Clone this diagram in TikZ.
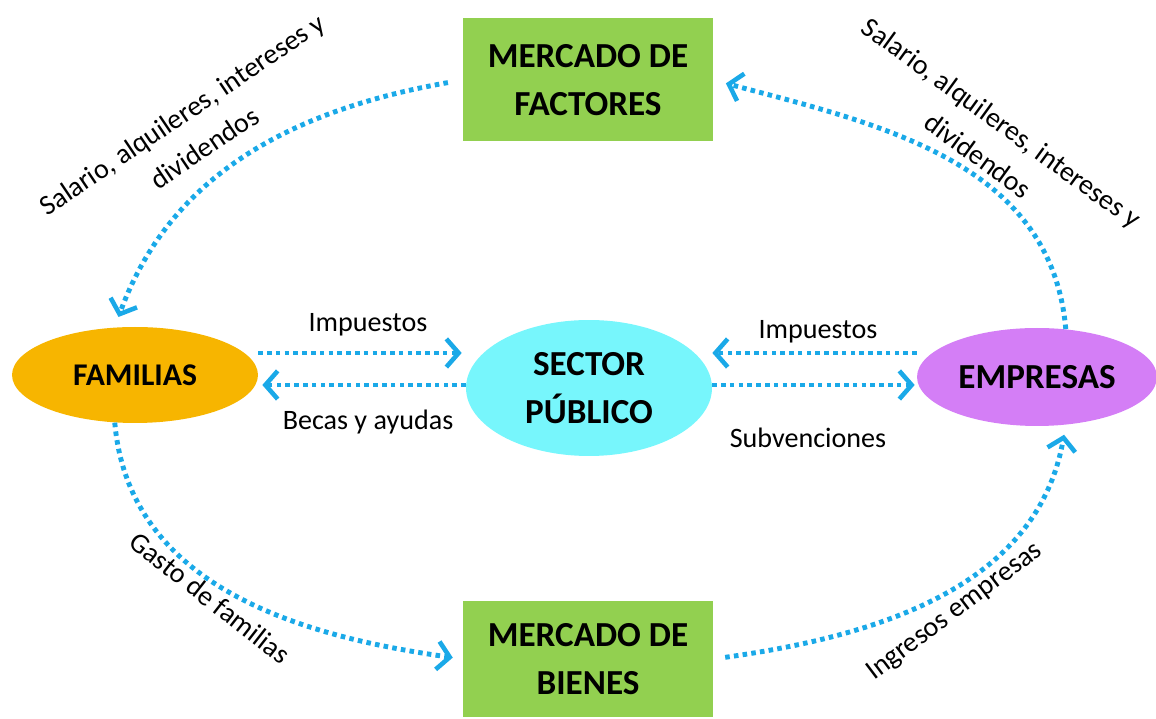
\documentclass[tikz,border=0pt]{standalone}
\usepackage{fontspec}
\setmainfont{Carlito}
\usetikzlibrary{arrows.meta,shapes.geometric}

\definecolor{verde}{HTML}{92D050}
\definecolor{naranja}{HTML}{F7B500}
\definecolor{celeste}{HTML}{77F6FC}
\definecolor{violeta}{HTML}{D47EF6}
\definecolor{azul}{HTML}{1AA9E8}

\begin{document}
\begin{tikzpicture}[x=0.02cm,y=0.02cm,
    flujo/.style={draw=azul,line width=2.8pt,dash pattern=on 2.6pt off 2.4pt,
      -{Straight Barb[length=7pt,width=16pt,line width=2.6pt]}},
    mercado/.style={rectangle,fill=verde,inner sep=0pt,minimum width=5cm,align=center,
      font=\bfseries\fontsize{20}{27}\selectfont},
    agente/.style={ellipse,inner sep=0pt,align=center,
      font=\bfseries\fontsize{20}{27}\selectfont},
    etiq/.style={inner sep=1pt,align=center,font=\fontsize{16}{23}\selectfont}]
    \useasboundingbox (0,0) rectangle (1156,719);

    \node[mercado,minimum height=2.46cm] (m_f) at (588,639) {MERCADO DE\\FACTORES};
    \node[mercado,minimum height=2.32cm] (m_b) at (588,60)  {MERCADO DE\\BIENES};
    \node[agente,fill=naranja,minimum width=4.92cm,minimum height=1.92cm,
          font=\bfseries\fontsize{18}{24}\selectfont] (fam) at (135,344) {FAMILIAS};
    \node[agente,fill=celeste,minimum width=4.92cm,minimum height=2.72cm] (sp) at (589,331) {SECTOR\\PÚBLICO};
    \node[agente,fill=violeta,minimum width=4.8cm,minimum height=1.96cm] (emp) at (1037,342) {EMPRESAS};

    % circuito exterior
    \draw[flujo,shorten <=0.3cm,shorten >=0.22cm] (m_f.west) to[out=190,in=70] (fam.113);
    \draw[flujo,shorten >=0.26cm] (emp.59) to[out=95,in=-15] (m_f.east);
    \draw[flujo,shorten >=0.2cm] (fam.247) to[out=-85,in=172] (m_b.west);
    \draw[flujo,shorten <=0.24cm,shorten >=0.2cm] (m_b.east) to[out=8,in=-100] (emp.301);

    % sector publico
    \draw[flujo,shorten >=0.08cm] (fam.east |- 0,366) -- (sp.west |- 0,366);
    \draw[flujo,shorten >=0.08cm] (sp.west |- 0,334) -- (fam.east |- 0,334);
    \draw[flujo] (emp.west |- 0,366) -- (sp.east |- 0,366);
    \draw[flujo,shorten >=0.04cm] (sp.east |- 0,334) -- (emp.west |- 0,334);

    \node[etiq] (imp_f) at (368,394) {Impuestos};
    \node[etiq] (becas) at (368,297) {Becas y ayudas};
    \node[etiq] (imp_e) at (818,387) {Impuestos};
    \node[etiq] (subv)  at (808,281) {Subvenciones};

    \node[etiq,rotate=34]  (sal_f) at (193,588) {Salario, alquileres, intereses y\\dividendos};
    \node[etiq,rotate=-36] (sal_e) at (990,580) {Salario, alquileres, intereses y\\dividendos};
    \node[etiq,rotate=-38] (gasto) at (210,121) {Gasto de familias};
    \node[etiq,rotate=37]  (ingr)  at (955,107) {Ingresos empresas};
\end{tikzpicture}
\end{document}
